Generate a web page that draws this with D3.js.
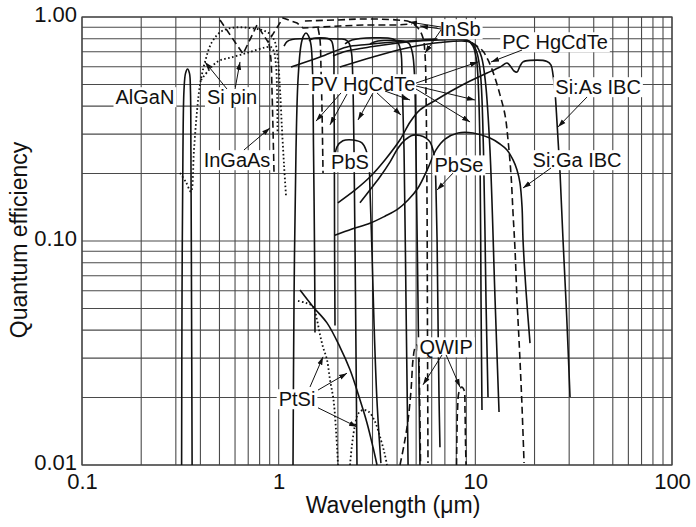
<!DOCTYPE html>
<html>
<head>
<meta charset="utf-8">
<script src="https://cdn.jsdelivr.net/npm/d3@7"></script>
<style>
  body { margin: 0; background: #fff; }
  text { font-family: 'Liberation Sans', Arial, Helvetica, sans-serif; fill: #111; }
</style>
</head>
<body>
<script>
// wavelength (um), quantum efficiency
let alganQE = [[0.321, 0.01], [0.3225, 0.055], [0.326, 0.25], [0.330, 0.47], [0.336, 0.56], [0.344, 0.586], [0.352, 0.56], [0.356, 0.47], [0.358, 0.25], [0.3605, 0.055], [0.363, 0.01]];
let siPinA = [[0.315, 0.201], [0.338, 0.183], [0.358, 0.166], [0.371, 0.255], [0.385, 0.385], [0.398, 0.497], [0.422, 0.63], [0.458, 0.773], [0.515, 0.866], [0.60, 0.898], [0.715, 0.893], [0.823, 0.875], [0.903, 0.84], [0.958, 0.773], [0.992, 0.643], [1.016, 0.472], [1.04, 0.313], [1.065, 0.218], [1.089, 0.16]];
let siPinB = [[0.403, 0.523], [0.486, 0.63], [0.586, 0.663], [0.715, 0.698], [0.852, 0.731], [0.914, 0.735], [0.947, 0.698], [0.969, 0.61], [0.981, 0.472], [0.987, 0.30]];
let ingaasTop = [[0.503, 0.97], [0.659, 0.684], [0.776, 0.921], [0.883, 0.773], [1.052, 0.99], [1.24, 0.94], [1.33, 0.893], [1.62, 0.902], [2.05, 0.912], [2.69, 0.921], [4.0, 0.921], [4.76, 0.931]];
let ingaasA = [[0.893, 0.758], [0.914, 0.643], [0.925, 0.472], [0.936, 0.313], [0.947, 0.201]];
let ingaasB = [[1.585, 0.893], [1.623, 0.789], [1.642, 0.58], [1.661, 0.385], [1.681, 0.201]];
let insbQE = [[1.36, 0.96], [1.98, 0.97], [2.69, 0.98], [4.0, 0.97], [4.66, 0.95], [5.11, 0.893], [5.42, 0.806], [5.55, 0.677], [5.62, 0.426], [5.68, 0.1525], [5.71, 0.040], [5.745, 0.0102]];
let pcHgCdTe = [[8.55, 0.80], [9.40, 0.773], [10.81, 0.712], [11.6, 0.643], [12.45, 0.551], [13.35, 0.449], [14.16, 0.365], [14.66, 0.283], [15.19, 0.197], [15.55, 0.133], [15.92, 0.091], [16.29, 0.0545], [16.68, 0.036], [17.22, 0.0195], [17.69, 0.0102]];
let siAsIBC = [[2.00, 0.148], [2.45, 0.169], [2.91, 0.193], [3.47, 0.230], [4.14, 0.283], [4.66, 0.34], [5.23, 0.385], [6.31, 0.426], [7.70, 0.472], [9.40, 0.518], [11.47, 0.562], [13.35, 0.598], [14.49, 0.623], [15.19, 0.598], [15.73, 0.574], [16.29, 0.568], [16.87, 0.604], [17.48, 0.63], [18.97, 0.64], [23.15, 0.633], [24.26, 0.61], [24.83, 0.551], [25.42, 0.463], [26.03, 0.336], [26.96, 0.201], [27.92, 0.101], [29.15, 0.0458], [30.3, 0.0201]];
let siGaIBC = [[1.93, 0.106], [2.36, 0.113], [2.91, 0.120], [3.47, 0.129], [4.0, 0.138], [4.55, 0.1525], [5.11, 0.1725], [5.75, 0.212], [6.31, 0.255], [7.01, 0.285], [8.17, 0.3035], [9.73, 0.3035], [11.87, 0.288], [13.35, 0.271], [14.49, 0.255], [15.55, 0.23], [16.29, 0.2075], [16.87, 0.1815], [17.28, 0.142], [17.48, 0.101], [18.10, 0.060], [18.97, 0.035]];
let pbseQE = [[2.59, 0.148], [2.91, 0.169], [3.27, 0.193], [3.68, 0.225], [4.05, 0.26], [4.39, 0.2825], [4.82, 0.297], [5.23, 0.296], [5.62, 0.288], [5.88, 0.277], [6.09, 0.255], [6.24, 0.218], [6.31, 0.169], [6.39, 0.101], [6.46, 0.0444], [6.54, 0.0195], [6.61, 0.012]];
let pbsQE = [[1.91, 0.218], [1.98, 0.263], [2.12, 0.28], [2.39, 0.2825], [2.65, 0.274], [2.78, 0.255], [2.88, 0.218], [2.91, 0.174], [2.98, 0.091], [3.05, 0.0444], [3.16, 0.0195], [3.31, 0.0102]];
let pvHgCdTe1 = [[1.183, 0.01], [1.197, 0.0545], [1.225, 0.255], [1.254, 0.523], [1.299, 0.75], [1.338, 0.823], [1.377, 0.848], [1.418, 0.823], [1.46, 0.75], [1.486, 0.58], [1.504, 0.255], [1.522, 0.091], [1.53, 0.039]];
let pvHgCdTe2 = [[1.065, 0.742], [1.103, 0.777], [1.169, 0.794], [1.623, 0.802], [2.05, 0.798], [2.175, 0.794], [2.279, 0.765], [2.347, 0.691], [2.38, 0.54], [2.416, 0.255], [2.459, 0.0545], [2.502, 0.01]];
let pvHgCdTe3 = [[1.427, 0.781], [1.495, 0.802], [1.782, 0.802], [1.857, 0.781], [1.901, 0.712], [1.911, 0.523], [1.919, 0.255], [1.925, 0.091], [1.934, 0.042]];
let pvHgCdTe4 = [[2.175, 0.758], [2.36, 0.789], [3.815, 0.798], [4.05, 0.765], [4.19, 0.691], [4.24, 0.54], [4.34, 0.255], [4.44, 0.0545], [4.55, 0.01]];
let pvHgCdTe5 = [[2.914, 0.758], [3.20, 0.781], [4.29, 0.781], [4.60, 0.762], [4.79, 0.691], [4.91, 0.54], [4.99, 0.255], [5.11, 0.0545], [5.23, 0.01]];
let pvHgCdTe6 = [[1.156, 0.598], [1.623, 0.663], [2.226, 0.735], [2.813, 0.754], [4.14, 0.777], [6.61, 0.798], [8.36, 0.798], [9.18, 0.785], [9.73, 0.742], [10.14, 0.643], [10.38, 0.472], [10.56, 0.255], [10.69, 0.0545], [10.81, 0.0176]];
let pvHgCdTe7 = [[1.889, 0.67], [2.226, 0.705], [3.018, 0.738], [4.495, 0.773], [6.61, 0.789], [8.97, 0.789], [9.62, 0.765], [10.2, 0.691], [10.63, 0.551], [11.0, 0.255], [11.33, 0.0545], [11.6, 0.0201]];
let pvHgCdTe8 = [[2.05, 0.598], [3.018, 0.663], [4.495, 0.727], [6.61, 0.769], [9.18, 0.777], [10.08, 0.746], [10.75, 0.663], [11.27, 0.507], [11.87, 0.255], [12.6, 0.0545], [13.2, 0.01725]];
let ptsiA = [[1.284, 0.0604], [1.495, 0.0509], [1.761, 0.0431], [2.05, 0.0336], [2.306, 0.0266], [2.593, 0.0195], [2.813, 0.0154], [3.018, 0.012], [3.163, 0.01]];
let ptsiB = [[1.254, 0.054], [1.377, 0.0529], [1.495, 0.0509], [1.567, 0.0444], [1.623, 0.0381], [1.681, 0.0336], [1.761, 0.0295], [1.824, 0.024], [1.901, 0.0195], [1.957, 0.0143], [2.004, 0.01]];
let ptsiC = [[2.306, 0.01], [2.36, 0.0123], [2.445, 0.0151], [2.532, 0.0169], [2.685, 0.0176], [2.88, 0.01725], [3.09, 0.0156], [3.314, 0.0129], [3.453, 0.0113], [3.555, 0.01]];
let qwipA = [[4.14, 0.01], [4.34, 0.0123], [4.55, 0.0159], [4.71, 0.0216], [4.82, 0.0295], [4.93, 0.0333], [5.05, 0.0343], [5.14, 0.032], [5.19, 0.024], [5.23, 0.0159], [5.265, 0.01]];
let qwipB = [[8.025, 0.01], [8.07, 0.0143], [8.12, 0.0176], [8.26, 0.0212], [8.52, 0.0223], [8.76, 0.0216], [8.86, 0.0176], [8.91, 0.0129], [8.97, 0.01]];

let xTickValues = [0.1, 1, 10, 100],
  xTickLabels = ['0.1', '1', '10', '100'],
  yTickValues = [0.01, 0.1, 1],
  yTickLabels = ['0.01', '0.10', '1.00'];

let labelNames = ['AlGaN', 'Si pin', 'InGaAs', 'PV HgCdTe', 'InSb', 'PC HgCdTe', 'Si:As IBC', 'Si:Ga IBC', 'PbSe', 'PbS', 'PtSi', 'QWIP'],
  labelWave = [0.209, 0.579, 0.614, 2.685, 8.36, 25.42, 42.1, 32.9, 8.26, 2.306, 1.24, 7.10],
  labelQE = [0.4395, 0.4395, 0.230, 0.502, 0.884, 0.773, 0.487, 0.230, 0.218, 0.2253, 0.0197, 0.0336];

// arrows: from [wave, qe] to [wave, qe]
let arrowLinks = [
  [0.546, 0.477, 0.422, 0.63], [0.60, 0.477, 0.636, 0.63],
  [0.666, 0.2548, 0.903, 0.3196],
  [2.075, 0.458, 1.549, 0.343], [2.226, 0.453, 1.824, 0.33], [3.018, 0.458, 2.532, 0.347],
  [3.163, 0.458, 4.19, 0.365], [3.474, 0.467, 4.655, 0.426],
  [4.993, 0.507, 10.32, 0.63], [4.993, 0.492, 9.96, 0.426], [4.993, 0.477, 9.40, 0.34],
  [6.69, 0.902, 4.60, 0.95], [6.69, 0.884, 5.234, 0.912], [6.69, 0.875, 5.55, 0.691],
  [17.28, 0.712, 12.02, 0.63],
  [36.98, 0.4395, 26.33, 0.323],
  [24.26, 0.2118, 17.48, 0.1725],
  [7.70, 0.201, 6.39, 0.169],
  [1.443, 0.0223, 1.681, 0.0304], [1.585, 0.0216, 2.226, 0.0257], [1.585, 0.018, 2.502, 0.0148],
  [6.77, 0.031, 5.42, 0.0228], [7.10, 0.031, 8.36, 0.0223]
];

let w = 696,
  h = 527,
  plotL = 82, plotR = 672, plotT = 17, plotB = 465;

let curves = [
  { d: alganQE, s: 'solid' }, { d: siPinA, s: 'dot' }, { d: siPinB, s: 'dot' },
  { d: ingaasTop, s: 'dash', lin: true }, { d: ingaasA, s: 'dash' }, { d: ingaasB, s: 'dash' },
  { d: insbQE, s: 'dash' }, { d: pcHgCdTe, s: 'dash' },
  { d: siAsIBC, s: 'solid' }, { d: siGaIBC, s: 'solid' }, { d: pbseQE, s: 'solid' }, { d: pbsQE, s: 'solid' },
  { d: pvHgCdTe1, s: 'solid' }, { d: pvHgCdTe2, s: 'solid' }, { d: pvHgCdTe3, s: 'solid' },
  { d: pvHgCdTe4, s: 'solid' }, { d: pvHgCdTe5, s: 'solid' }, { d: pvHgCdTe6, s: 'solid' },
  { d: pvHgCdTe7, s: 'solid' }, { d: pvHgCdTe8, s: 'solid' },
  { d: ptsiA, s: 'solid' }, { d: ptsiB, s: 'dot' }, { d: ptsiC, s: 'dot' },
  { d: qwipA, s: 'dash' }, { d: qwipB, s: 'dash' }
];

let xScale = d3.scaleLog().domain([0.1, 100]).range([plotL, plotR]);
let yScale = d3.scaleLog().domain([0.01, 1]).range([plotB, plotT]);

let svg = d3.select('body')
  .append('svg')
  .attr('width', w)
  .attr('height', h);

svg.append('defs')
  .append('marker')
  .attr('id', 'arr')
  .attr('viewBox', '0 0 10 10')
  .attr('refX', 10)
  .attr('refY', 5)
  .attr('markerWidth', 8)
  .attr('markerHeight', 8)
  .attr('orient', 'auto')
  .append('path')
  .attr('d', 'M0,1.8L10,5L0,8.2Z')
  .attr('fill', '#111');

// grid
svg.append('g')
  .selectAll('line')
  .data(xScale.ticks())
  .enter()
  .append('line')
  .attr('x1', d => xScale(d)).attr('x2', d => xScale(d))
  .attr('y1', plotT).attr('y2', plotB)
  .attr('stroke', '#4a4a4a').attr('stroke-width', 1.1);

svg.append('g')
  .selectAll('line')
  .data(yScale.ticks())
  .enter()
  .append('line')
  .attr('x1', plotL).attr('x2', plotR)
  .attr('y1', d => yScale(d)).attr('y2', d => yScale(d))
  .attr('stroke', '#4a4a4a').attr('stroke-width', 1.1);

svg.append('rect')
  .attr('x', plotL).attr('y', plotT)
  .attr('width', plotR - plotL).attr('height', plotB - plotT)
  .attr('fill', 'none').attr('stroke', '#444').attr('stroke-width', 1.2);

// axes
let xAxis = d3.axisBottom(xScale).tickValues(xTickValues).tickFormat((d, i) => xTickLabels[i]).tickSize(0).tickPadding(8);
let yAxis = d3.axisLeft(yScale).tickValues(yTickValues).tickFormat((d, i) => yTickLabels[i]).tickSize(0).tickPadding(5);

svg.append('g').attr('transform', 'translate(0,' + plotB + ')').call(xAxis)
  .call(g => g.select('.domain').remove())
  .selectAll('text').attr('font-size', '22px').attr('fill', '#111').attr('font-family', "'Liberation Sans', Arial, sans-serif");

svg.append('g').attr('transform', 'translate(' + plotL + ',0)').call(yAxis)
  .call(g => g.select('.domain').remove())
  .selectAll('text').attr('font-size', '22px').attr('fill', '#111').attr('dy', '0.2em').attr('font-family', "'Liberation Sans', Arial, sans-serif");

svg.append('text')
  .text('Wavelength (\u03bcm)')
  .attr('x', (plotL + plotR) / 2 + 16)
  .attr('y', 513)
  .attr('text-anchor', 'middle')
  .attr('font-size', '23px');

svg.append('text')
  .text('Quantum efficiency')
  .attr('transform', 'translate(27,240) rotate(-90)')
  .attr('text-anchor', 'middle')
  .attr('font-size', '23px');

// curves
let line = d3.line()
  .x(d => xScale(d[0]))
  .y(d => yScale(d[1]))
  .curve(d3.curveCatmullRom.alpha(0.5));

let lineLin = d3.line()
  .x(d => xScale(d[0]))
  .y(d => yScale(d[1]));

svg.append('g')
  .selectAll('path')
  .data(curves)
  .enter()
  .append('path')
  .attr('d', c => c.lin ? lineLin(c.d) : line(c.d))
  .attr('fill', 'none')
  .attr('stroke', '#111')
  .attr('stroke-width', c => c.s === 'dot' ? 1.8 : 1.6)
  .attr('stroke-dasharray', c => c.s === 'dash' ? '7,4' : (c.s === 'dot' ? '1.6,2.4' : null));

// labels with white boxes
let labels = svg.append('g')
  .selectAll('g')
  .data(labelNames)
  .enter()
  .append('g');

labels.append('text')
  .text(d => d)
  .attr('x', (d, i) => xScale(labelWave[i]))
  .attr('y', (d, i) => yScale(labelQE[i]))
  .attr('dy', '0.36em')
  .attr('text-anchor', 'middle')
  .attr('font-size', '20px');

labels.each(function() {
  let g = d3.select(this);
  let b = g.select('text').node().getBBox();
  g.insert('rect', 'text')
    .attr('x', b.x - 2).attr('y', b.y + 1)
    .attr('width', b.width + 4).attr('height', b.height - 2)
    .attr('fill', '#fff');
});

// arrows
svg.append('g')
  .selectAll('line')
  .data(arrowLinks)
  .enter()
  .append('line')
  .attr('x1', d => xScale(d[0])).attr('y1', d => yScale(d[1]))
  .attr('x2', d => xScale(d[2])).attr('y2', d => yScale(d[3]))
  .attr('stroke', '#111')
  .attr('stroke-width', 1)
  .attr('marker-end', 'url(#arr)');
</script>
</body>
</html>
